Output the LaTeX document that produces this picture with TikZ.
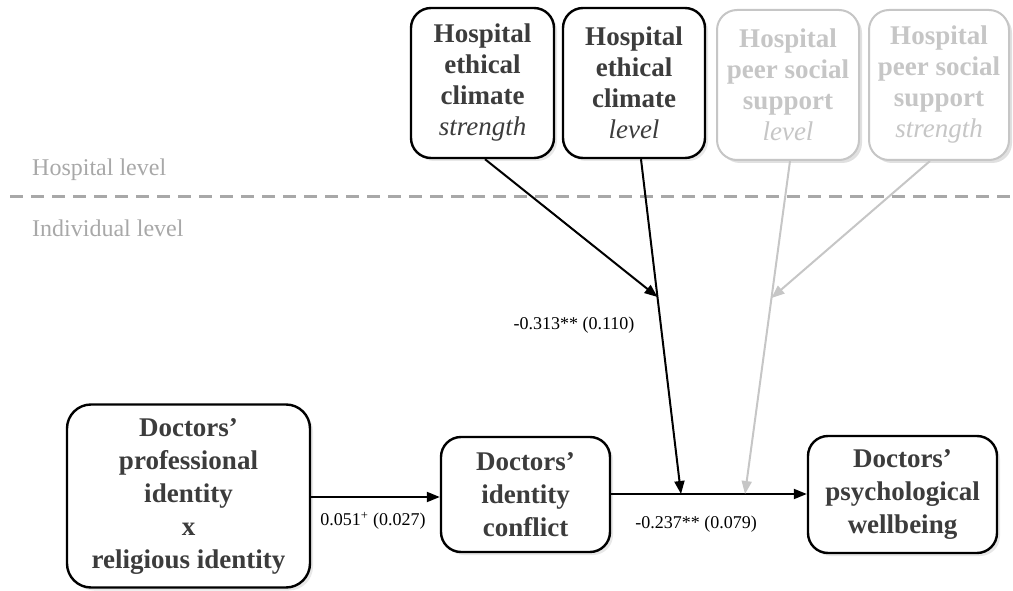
\documentclass[tikz,border=0pt]{standalone}
\usepackage{fontspec}
\setmainfont{Liberation Serif}
\usetikzlibrary{arrows.meta,shadows}
\definecolor{txt}{HTML}{3C3C3C}
\definecolor{lgray}{HTML}{C6C6C6}
\definecolor{lvl}{HTML}{A8A8A8}
\tikzset{
  topbox/.style={draw=black, line width=2.4pt, rounded corners=20pt, fill=white, align=center, text=txt,
    inner sep=0pt, font=\fontsize{27}{31}\selectfont\bfseries,
    drop shadow={shadow xshift=3pt, shadow yshift=-3pt, opacity=.18}},
  greybox/.style={topbox, draw=lgray, line width=2pt, text=lgray,
    drop shadow={shadow xshift=3pt, shadow yshift=-3pt, opacity=.08}},
  botbox/.style={topbox, rounded corners=24pt, font=\fontsize{27}{33}\selectfont\bfseries},
  arr/.style={draw=black, line width=2pt, -{Triangle[length=13pt,width=10pt]}},
  garr/.style={draw=lgray, line width=2pt, -{Triangle[length=13pt,width=10pt]}},
  coef/.style={font=\fontsize{18}{20}\selectfont, text=black, inner sep=0pt},
  lvltext/.style={font=\fontsize{24}{26}\selectfont, text=lvl, anchor=west, inner sep=0pt},
}
\begin{document}
\begin{tikzpicture}[x=1pt, y=-1pt]
\useasboundingbox (0,0) rectangle (1013,591);
% levels
\draw[lvl, line width=3pt, dash pattern=on 13pt off 8pt] (10,197) -- (1013,197);
\node[lvltext] (hl) at (32,170) {Hospital level};
\node[lvltext] (il) at (32,228) {Individual level};
% top boxes
\node[topbox, minimum width=143pt, minimum height=150pt] (strength) at (482.5,83)
  {Hospital\\ethical\\climate\\{\mdseries\itshape strength}};
\node[topbox, minimum width=142pt, minimum height=150pt] (level) at (634,83)
  {Hospital\\ethical\\climate\\{\mdseries\itshape level}};
\node[greybox, minimum width=142pt, minimum height=150pt] (glevel) at (788,85)
  {Hospital\\peer social\\support\\{\mdseries\itshape level}};
\node[greybox, minimum width=140pt, minimum height=150pt] (gstrength) at (939,85)
  {Hospital\\peer social\\support\\{\mdseries\itshape strength}};
% bottom boxes
\node[botbox, minimum width=243pt, minimum height=183pt] (pi) at (188.5,496)
  {Doctors’\\professional\\identity\\x\\religious identity};
\node[botbox, minimum width=169pt, minimum height=115pt, rounded corners=20pt] (ic) at (525.5,494.5)
  {Doctors’\\identity\\conflict};
\node[botbox, minimum width=189pt, minimum height=117pt, rounded corners=20pt] (wb) at (902.5,494.5)
  {Doctors’\\psychological\\wellbeing};
% junctions
\coordinate (j1) at (681,494);
\coordinate (j2) at (657.5,297);
\coordinate (j3) at (745,494);
\coordinate (j4) at (771.5,298);
% arrows
\draw[arr] (pi.east |- 0,497) -- (ic.west |- 0,497);
\draw[arr] (ic.east |- 0,494) -- (wb.west |- 0,494);
\draw[garr] ([xshift=2pt]glevel.south) -- (j3);
\draw[garr] ([xshift=-9pt]gstrength.south) -- (j4);
\draw[arr] ([xshift=7pt]level.south) -- (j1);
\draw[arr] ([xshift=2.5pt]strength.south) -- (j2);
% coefficients
\node[coef] (c1) at (373,521) {0.051\textsuperscript{+} (0.027)};
\node[coef] (c2) at (696,524) {-0.237** (0.079)};
\node[coef] (c3) at (574,325) {-0.313** (0.110)};
\end{tikzpicture}
\end{document}
